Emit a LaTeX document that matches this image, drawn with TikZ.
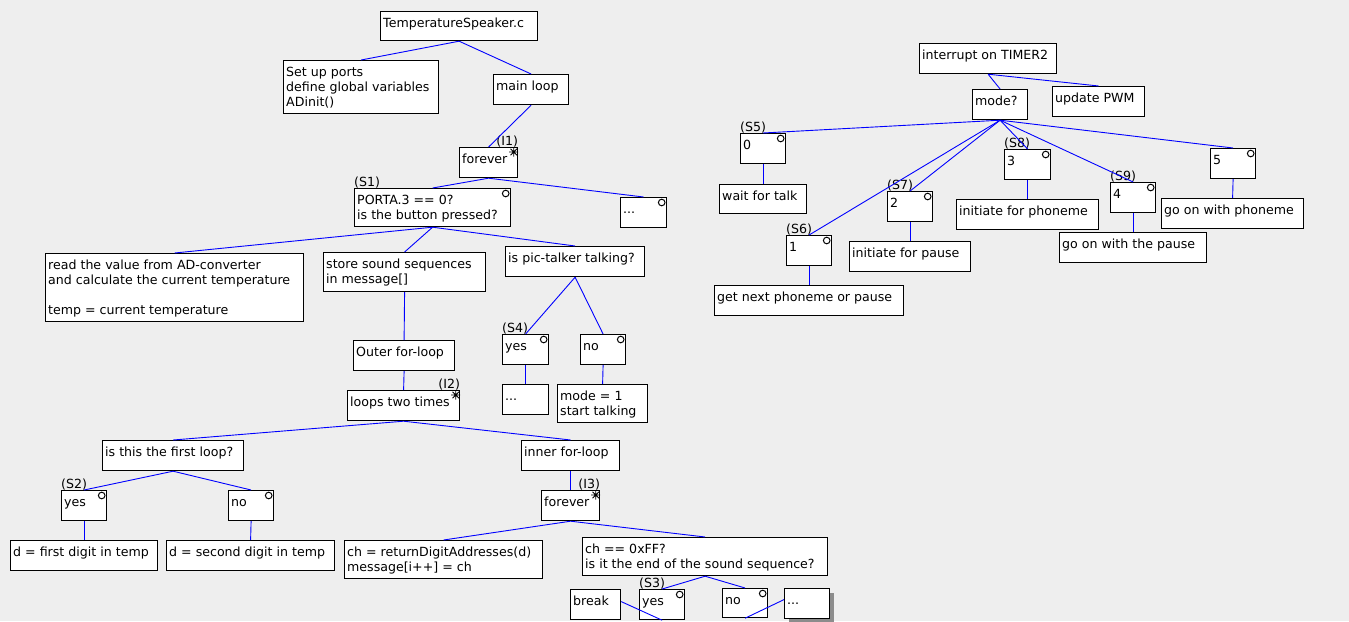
\documentclass[tikz,border=0pt]{standalone}
\usepackage{fontspec}
\setmainfont{DejaVu Sans}
\usetikzlibrary{shadows}
\definecolor{canvas}{HTML}{EEEEEE}
\definecolor{wire}{HTML}{0000FF}

% box with its text set at the upper left corner
\newcommand\mybox[7][]{%
  \node[box,#1,minimum width=#5pt-#3pt,minimum height=#6pt-#4pt] (#2) at (#3,#4) {};
  \node[txt] (#2-t) at ([shift={(3,4)}]#2.north west) {\rule{0pt}{12pt}#7};
}
% small circle in the upper right corner (selection)
\newcommand\optmark[1]{\draw[line width=1pt] ([shift={(-5.5,5.5)}]#1.north east) circle[radius=3.3pt];}
% asterisk in the upper right corner (iteration)
\newcommand\loopmark[1]{%
  \draw[line width=0.9pt] ([shift={(-4.5,5)}]#1.north east)
    +(-4.5,0) -- +(4.5,0) +(0,-4.5) -- +(0,4.5)
    +(-3.2,-3.2) -- +(3.2,3.2) +(-3.2,3.2) -- +(3.2,-3.2);}
% tag above a box, left or right
\newcommand\tagl[3]{\node[lbl,anchor=base west] (#1) at ([yshift=1.5pt]#2.north west) {#3};}
\newcommand\tagr[3]{\node[lbl,anchor=base east] (#1) at ([yshift=1.5pt]#2.north east) {#3};}

\begin{document}
\begin{tikzpicture}[x=1pt,y=-1pt,
  box/.style={draw=black,line width=1.2pt,fill=white,inner sep=0pt,anchor=north west},
  txt/.style={inner sep=0pt,anchor=north west,align=left,font=\fontsize{12.6}{15}\selectfont},
  lbl/.style={inner sep=0pt,font=\fontsize{12.6}{15}\selectfont},
  link/.style={draw=wire,line width=0.9pt},
  shade/.style={drop shadow={shadow xshift=4pt,shadow yshift=-4pt,fill=black!45,opacity=1}}]

\fill[canvas] (0,0) rectangle (1349,621);
\useasboundingbox (0,0) rectangle (1349,621);

% ---------- main program ----------
\mybox{ts}{380}{11}{537}{40}{TemperatureSpeaker.c}
\mybox{setup}{283}{60}{438}{113}{Set up ports\\define global variables\\ADinit()}
\mybox{main}{493}{74}{568}{104}{main loop}
\mybox{fe1}{459}{147}{517}{177}{forever}
\loopmark{fe1} \tagr{i1}{fe1}{(I1)}
\mybox{porta}{354}{188}{510}{226}{PORTA.3 == 0?\\is the button pressed?}
\optmark{porta} \tagl{s1}{porta}{(S1)}
\mybox{dots1}{620}{197}{666}{227}{...}
\optmark{dots1}

\mybox{read}{45}{253}{303}{321}{read the value from AD-converter\\and calculate the current temperature\\[15pt]temp = current temperature}
\mybox{store}{323}{252}{485}{291}{store sound sequences\\in message[]}
\mybox{talk}{505}{246}{644}{276}{is pic-talker talking?}

\mybox{outer}{353}{340}{454}{370}{Outer for-loop}
\mybox{two}{347}{390}{459}{420}{loops two times}
\loopmark{two} \tagr{i2}{two}{(I2)}

\mybox{yes4}{502}{334}{548}{364}{yes}
\optmark{yes4} \tagl{s4}{yes4}{(S4)}
\mybox{no4}{580}{334}{625}{364}{no}
\optmark{no4}
\mybox{dots4}{502}{384}{548}{414}{...}
\mybox{mode1}{557}{384}{647}{422}{mode = 1\\start talking}

\mybox{first}{102}{440}{243}{470}{is this the first loop?}
\mybox{yes2}{61}{490}{106}{520}{yes}
\optmark{yes2} \tagl{s2}{yes2}{(S2)}
\mybox{no2}{228}{490}{273}{520}{no}
\optmark{no2}
\mybox{dfirst}{10}{540}{157}{570}{d = first digit in temp}
\mybox{dsecond}{166}{540}{334}{570}{d = second digit in temp}

\mybox{inner}{521}{440}{619}{470}{inner for-loop}
\mybox{fe3}{541}{490}{599}{520}{forever}
\loopmark{fe3} \tagr{i3}{fe3}{(I3)}
\mybox{ret}{344}{540}{542}{578}{ch = returnDigitAddresses(d)\\message[i++] = ch}
\mybox{endq}{582}{537}{827}{575}{ch == 0xFF?\\is it the end of the sound sequence?}
\mybox{brk}{570}{589}{620}{619}{break}
\mybox{yes3}{639}{589}{684}{619}{yes}
\optmark{yes3} \tagl{s3}{yes3}{(S3)}
\mybox{no3}{722}{588}{767}{617}{no}
\optmark{no3}
\mybox[shade]{dots3}{784}{588}{829}{618}{...}

% ---------- timer interrupt ----------
\mybox{irq}{919}{43}{1056}{73}{interrupt on TIMER2}
\mybox{mode}{972}{89}{1027}{119}{mode?}
\mybox{pwm}{1052}{86}{1144}{116}{update PWM}

\mybox{c0}{740}{133}{785}{163}{0}
\optmark{c0} \tagl{s5}{c0}{(S5)}
\mybox{wait}{719}{184}{806}{213}{wait for talk}
\mybox{c1}{786}{235}{831}{265}{1}
\optmark{c1} \tagl{s6}{c1}{(S6)}
\mybox{next}{714}{285}{903}{315}{get next phoneme or pause}
\mybox{c2}{887}{191}{932}{221}{2}
\optmark{c2} \tagl{s7}{c2}{(S7)}
\mybox{ipause}{849}{241}{970}{271}{initiate for pause}
\mybox{c3}{1004}{149}{1050}{179}{3}
\optmark{c3} \tagl{s8}{c3}{(S8)}
\mybox{iphon}{956}{199}{1098}{229}{initiate for phoneme}
\mybox{c4}{1110}{182}{1155}{212}{4}
\optmark{c4} \tagl{s9}{c4}{(S9)}
\mybox{gpause}{1059}{232}{1206}{262}{go on with the pause}
\mybox{c5}{1210}{148}{1255}{178}{5}
\optmark{c5}
\mybox{gphon}{1161}{198}{1303}{228}{go on with phoneme}

% ---------- connectors ----------
\draw[link] (ts.south) -- (setup.north);
\draw[link] (ts.south) -- (main.north);
\draw[link] (main.south) -- (fe1.north);
\draw[link] (fe1.south) -- (porta.north);
\draw[link] (fe1.south) -- (dots1.north);
\draw[link] (porta.south) -- (read.north);
\draw[link] (porta.south) -- (store.north);
\draw[link] (porta.south) -- (talk.north);
\draw[link] (store.south) -- (outer.north);
\draw[link] (outer.south) -- (two.north);
\draw[link] (talk.south) -- (yes4.north);
\draw[link] (talk.south) -- (no4.north);
\draw[link] (yes4.south) -- (dots4.north);
\draw[link] (no4.south) -- (mode1.north);
\draw[link] (two.south) -- (first.north);
\draw[link] (two.south) -- (inner.north);
\draw[link] (first.south) -- (yes2.north);
\draw[link] (first.south) -- (no2.north);
\draw[link] (yes2.south) -- (dfirst.north);
\draw[link] (no2.south) -- (dsecond.north);
\draw[link] (inner.south) -- (fe3.north);
\draw[link] (fe3.south) -- (ret.north);
\draw[link] (fe3.south) -- (endq.north);
\draw[link] (endq.south) -- (yes3.north);
\draw[link] (endq.south) -- (no3.north);
\draw[link] (yes3.south) -- ([yshift=3pt]brk.east);
\draw[link] (no3.south) -- ([yshift=4pt]dots3.west);

\draw[link] (irq.south) -- (mode.north);
\draw[link] (irq.south) -- (pwm.north);
\draw[link] (mode.south) -- (c0.north);
\draw[link] (mode.south) -- (c1.north);
\draw[link] (mode.south) -- (c2.north);
\draw[link] (mode.south) -- (c3.north);
\draw[link] (mode.south) -- (c4.north);
\draw[link] (mode.south) -- (c5.north);
\draw[link] (c0.south) -- (wait.north);
\draw[link] (c1.south) -- (next.north);
\draw[link] (c2.south) -- (ipause.north);
\draw[link] (c3.south) -- (iphon.north);
\draw[link] (c4.south) -- (gpause.north);
\draw[link] (c5.south) -- (gphon.north);
\end{tikzpicture}
\end{document}
